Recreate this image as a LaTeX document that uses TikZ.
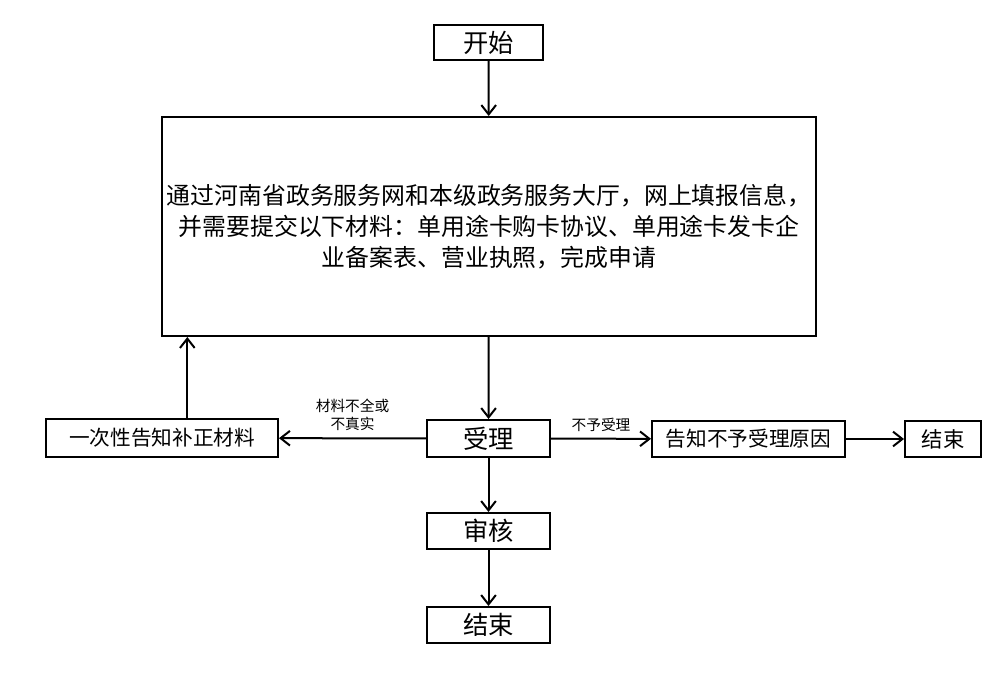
\documentclass[tikz,border=0pt]{standalone}
\usepackage{fontspec}
\setmainfont{Noto Sans CJK SC}
\usetikzlibrary{arrows.meta}

\begin{document}
\begin{tikzpicture}[x=0.75pt,y=-0.75pt,
    box/.style={draw,line width=1.5pt,rectangle,inner sep=0pt,align=center},
    arr/.style={line width=1.5pt,-{Straight Barb[length=7pt,width=11pt,line width=1.5pt]}},
    tag/.style={font=\fontsize{11}{13}\selectfont,align=center}]
    \useasboundingbox (0,0) rectangle (1006,699);
    \node[box,minimum width=81.75pt,minimum height=26.25pt,font=\fontsize{19}{22}\selectfont] (start) at (488.5,42.5) {开始};
    \node[box,minimum width=490.5pt,minimum height=164.25pt,font=\fontsize{17.9}{23.5}\selectfont] (apply) at (489,226.5)
      {通过河南省政务服务网和本级政务服务大厅，网上填报信息，\\并需要提交以下材料：单用途卡购卡协议、单用途卡发卡企\\业备案表、营业执照，完成申请};
    \node[box,minimum width=92.25pt,minimum height=27.75pt,font=\fontsize{19}{22}\selectfont] (accept) at (488.5,438.5) {受理};
    \node[box,minimum width=174pt,minimum height=28.5pt,font=\fontsize{15.5}{19}\selectfont] (supp) at (162,438) {一次性告知补正材料};
    \node[box,minimum width=144.75pt,minimum height=27pt,font=\fontsize{15.5}{19}\selectfont] (refuse) at (748.5,439) {告知不予受理原因};
    \node[box,minimum width=57pt,minimum height=27pt,font=\fontsize{16}{19}\selectfont] (endR) at (943,439) {结束};
    \node[box,minimum width=92.25pt,minimum height=27pt,font=\fontsize{19}{22}\selectfont] (review) at (488.5,531) {审核};
    \node[box,minimum width=92.25pt,minimum height=27pt,font=\fontsize{19}{22}\selectfont] (endB) at (488.5,625) {结束};
    % main flow
    \draw[arr] (start) -- (apply);
    \draw[arr] (apply) -- (accept);
    \draw[arr] (accept) -- (review);
    \draw[arr] (review) -- (endB);
    % branches
    \draw[arr] (accept) -- node[tag,above=2pt]{材料不全或\\不真实} (supp);
    \draw[arr] ([xshift=19pt]supp.north) -- ([xshift=19pt]supp.north |- apply.south);
    \draw[arr] (accept) -- node[tag,above=1pt]{不予受理} (refuse);
    \draw[arr] (refuse) -- (endR);
  \end{tikzpicture}
\end{document}
